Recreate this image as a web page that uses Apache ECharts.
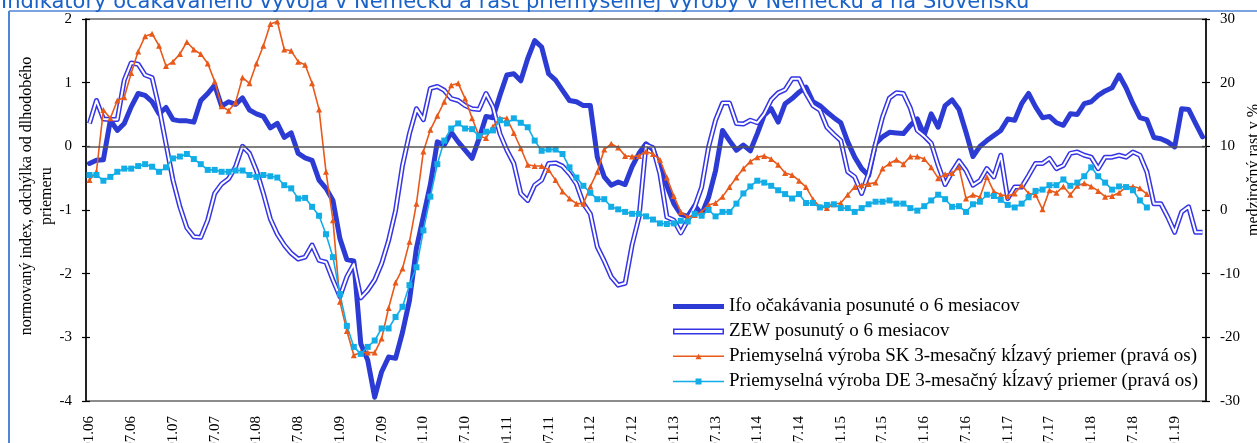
<!DOCTYPE html>
<html>
<head>
<meta charset="utf-8">
<script src="https://cdn.jsdelivr.net/npm/echarts@6/dist/echarts.min.js"></script>
<style>
html,body{margin:0;padding:0;background:#fff;}
#chart{width:1257px;height:443px;}
</style>
</head>
<body>
<div id="chart"></div>
<script>
// Months Jan 2006 .. May 2019
const startYear = 2006, monthCount = 161;
const categories = [];
for (let k = 0; k < monthCount; k++) {
  const m = (k % 12) + 1, y = startYear + Math.floor(k / 12);
  categories.push((m < 10 ? '0' : '') + m + '.' + String(y).slice(2));
}

const ifo = [-0.27,-0.22,-0.21,0.41,0.25,0.36,0.62,0.83,0.80,0.70,0.51,0.61,0.42,0.40,0.40,0.38,0.72,0.83,0.96,0.63,
0.70,0.66,0.76,0.57,0.51,0.47,0.29,0.36,0.14,0.21,-0.11,-0.18,-0.22,-0.53,-0.66,-0.85,-1.45,-1.78,-1.80,-3.10,
-3.36,-3.94,-3.54,-3.31,-3.33,-2.92,-2.42,-1.60,-1.10,-0.60,0.07,0.02,0.22,0.07,-0.06,-0.19,0.12,0.47,0.45,0.80,
1.12,1.14,1.03,1.38,1.66,1.56,1.14,1.04,0.88,0.72,0.70,0.64,0.64,-0.17,-0.48,-0.61,-0.56,-0.60,-0.32,-0.11,
0.04,-0.05,-0.32,-0.62,-0.90,-1.07,-1.10,-0.93,-1.07,-0.80,-0.38,0.25,0.09,-0.06,0.02,-0.07,0.20,0.49,0.59,0.38,
0.67,0.75,0.85,0.93,0.70,0.64,0.54,0.45,0.37,0.07,-0.17,-0.35,-0.46,0.04,0.15,0.22,0.21,0.20,0.33,0.43,
0.18,0.51,0.30,0.64,0.73,0.58,0.22,-0.16,0.00,0.09,0.17,0.25,0.43,0.41,0.67,0.83,0.62,0.45,0.47,0.37,
0.33,0.51,0.50,0.67,0.70,0.80,0.87,0.92,1.12,0.92,0.67,0.45,0.42,0.14,0.12,0.07,-0.01,0.59,0.58,0.36,0.15];

const zew = [0.36,0.72,0.43,0.42,0.42,1.04,1.31,1.29,1.12,1.08,0.61,0.04,-0.53,-0.95,-1.28,-1.42,-1.43,-1.16,-0.74,-0.59,
-0.51,-0.32,0.00,-0.11,-0.38,-0.74,-1.14,-1.38,-1.55,-1.68,-1.77,-1.74,-1.55,-1.79,-1.82,-2.10,-2.36,-2.05,-1.85,-2.38,
-2.26,-2.10,-1.84,-1.48,-1.01,-0.30,0.20,0.59,0.42,0.91,0.94,0.88,0.75,0.72,0.64,0.59,0.58,0.83,0.62,0.20,
-0.06,-0.27,-0.74,-0.85,-0.61,-0.53,-0.27,-0.26,-0.31,-0.43,-0.59,-0.90,-1.06,-1.58,-1.80,-2.05,-2.18,-2.15,-1.55,-1.11,
0.02,-0.02,-0.43,-1.11,-1.16,-1.36,-1.16,-0.95,-0.64,-0.01,0.41,0.68,0.68,0.36,0.35,0.41,0.37,0.51,0.73,0.84,
0.89,1.06,1.06,0.83,0.64,0.57,0.30,0.19,0.09,-0.40,-0.48,-0.74,-0.43,0.04,0.46,0.76,0.84,0.83,0.60,0.25,
0.16,0.05,-0.30,-0.60,-0.40,-0.23,-0.38,-0.61,-0.54,-0.35,-0.48,-0.14,-0.82,-0.64,-0.64,-0.46,-0.27,-0.27,-0.19,-0.35,
-0.30,-0.11,-0.09,-0.14,-0.17,-0.35,-0.17,-0.17,-0.14,-0.17,-0.09,-0.14,-0.40,-0.90,-0.90,-1.11,-1.35,-1.03,-0.95,-1.35,-1.35];

const sk = [4.7,6.0,15.7,14.4,17.2,17.7,21.5,24.9,27.3,27.7,25.8,22.6,23.3,24.5,26.4,25.2,24.5,23.0,20.2,16.3,
15.6,16.9,20.8,19.9,23.0,25.8,29.2,29.6,25.2,25.0,23.3,22.8,19.9,15.8,6.0,-1.6,-14.4,-19.0,-22.8,-22.4,
-22.4,-22.4,-20.2,-15.4,-11.4,-9.2,-5.0,1.0,9.2,12.6,14.8,17.0,19.6,19.9,17.5,14.4,11.6,11.3,13.1,14.4,
14.4,12.1,9.7,7.1,6.9,6.9,6.3,4.7,2.9,1.8,1.0,1.0,3.7,6.0,9.5,10.4,9.8,8.5,8.4,8.5,
9.2,8.8,7.9,5.1,2.2,-0.3,-1.1,-0.8,-0.3,0.8,1.1,2.1,3.6,5.1,6.5,7.6,8.3,8.5,8.0,7.1,
5.8,5.5,4.6,3.6,1.7,0.5,0.3,0.9,1.1,2.4,3.6,3.9,4.1,4.3,6.5,7.3,7.9,7.2,8.4,8.4,
8.0,6.7,5.0,5.6,5.8,6.7,1.8,2.4,2.0,5.2,2.9,2.4,2.2,2.6,3.9,2.6,2.4,0.1,3.1,2.7,
3.7,2.4,3.8,4.2,3.7,3.0,2.1,2.2,2.7,3.6,3.7,3.4,2.5];

const de = [5.5,5.5,4.6,5.2,6.0,6.5,6.5,6.9,7.2,6.8,6.0,6.7,8.1,8.4,8.8,8.0,7.2,6.3,6.3,6.0,
6.0,6.2,6.2,5.5,5.2,5.5,5.3,5.1,3.9,3.4,1.8,1.9,0.5,-0.9,-3.8,-7.4,-13.2,-18.2,-21.5,-22.6,
-21.5,-20.5,-18.6,-18.6,-16.8,-15.2,-11.8,-9.0,-3.2,2.1,7.2,10.9,12.8,13.6,12.8,12.7,11.6,12.3,12.5,14.1,
13.6,14.4,13.7,13.0,10.9,9.3,9.5,9.5,8.8,6.7,5.1,3.8,2.7,1.7,1.7,0.5,0.1,-0.3,-0.6,-0.6,
-1.0,-1.5,-2.1,-2.2,-2.1,-1.7,-1.8,-0.6,-0.9,0.0,-1.0,-0.3,-0.3,1.0,2.6,3.7,4.6,4.3,3.8,3.1,
2.5,1.8,2.5,1.1,1.1,0.4,0.8,0.9,0.3,0.3,-0.3,0.3,0.9,1.3,1.3,1.5,1.0,1.0,0.3,-0.1,
0.6,1.5,2.4,1.7,0.5,0.6,-0.3,0.9,1.3,2.4,2.2,1.6,0.8,0.4,1.0,2.0,3.0,3.2,3.9,3.9,
4.8,3.8,4.3,5.3,6.7,5.3,4.3,3.2,3.7,3.6,3.1,1.5,0.4];

const leftTicks = {min: -4, max: 2, interval: 1};
const rightTicks = {min: -30, max: 30, interval: 10};

const names = {
  ifo: 'Ifo očakávania posunuté o 6 mesiacov',
  zew: 'ZEW posunutý o 6 mesiacov',
  sk: 'Priemyselná výroba SK 3-mesačný kĺzavý priemer (pravá os)',
  de: 'Priemyselná výroba DE 3-mesačný kĺzavý priemer (pravá os)'
};
const title = 'Indikátory očakávaného vývoja v Nemecku a rast priemyselnej výroby v Nemecku a na Slovensku';
const leftName = 'normovaný index, odchýlka od dlhodobého\npriemeru';
const rightName = 'medziročný rast v %';

const C = {ifo: '#2b3bd4', zew: '#3535e6', sk: '#e8591a', de: '#12ade6'};
const serif = 'Liberation Serif';

const chart = echarts.init(document.getElementById('chart'), null, {renderer: 'canvas'});

function yAx(t, pos, main) {
  return {
    type: 'value', position: pos, min: t.min, max: t.max, interval: t.interval,
    splitLine: {show: false},
    axisLine: {show: main, lineStyle: {color: '#000', width: 1.5}},
    axisTick: {show: true, inside: !main, length: 4, lineStyle: {color: '#000', width: 1.2}},
    axisLabel: {show: main, margin: 14, fontFamily: serif, fontSize: 15, color: '#000'}
  };
}

chart.setOption({
  animation: false,
  backgroundColor: '#fff',
  grid: {left: 86, right: 51, top: 19, bottom: 42, show: true, borderColor: '#8c8c8c', borderWidth: 2,
         outerBoundsMode: 'none', containLabel: false},
  xAxis: {
    type: 'category', data: categories, boundaryGap: true,
    axisLine: {show: false, onZero: false}, axisTick: {show: false}, splitLine: {show: false},
    axisLabel: {
      interval: function (i) { return i % 6 === 0; },
      rotate: 90, margin: 15, fontFamily: serif, fontSize: 15, color: '#000'
    }
  },
  yAxis: [yAx(leftTicks, 'left', true), yAx(rightTicks, 'right', true),
          yAx(leftTicks, 'left', false), yAx(rightTicks, 'right', false)],
  legend: {
    orient: 'vertical', left: 673, top: 297, padding: 0,
    itemWidth: 51, itemHeight: 14, itemGap: 6,
    textStyle: {fontFamily: serif, fontSize: 19, color: '#000'},
    data: [
      {name: names.ifo, icon: 'path://M0,0L51,0L51,5L0,5Z'},
      {name: names.zew, icon: 'path://M0,0L51,0L51,6L0,6Z M1.5,1.5L1.5,4.5L49.5,4.5L49.5,1.5Z'},
      {name: names.sk, icon: 'path://M0,3.3L51,3.3L51,4.7L0,4.7Z M22.5,7L25.5,1.5L28.5,7Z'},
      {name: names.de, icon: 'path://M0,3.3L51,3.3L51,4.7L0,4.7Z M22.5,1L28.5,1L28.5,7L22.5,7Z'}
    ]
  },
  graphic: [
    {type: 'line', shape: {x1: 9, y1: 11, x2: 1257, y2: 11}, style: {stroke: '#4f86d4', lineWidth: 1.5}},
    {type: 'line', shape: {x1: 9, y1: 11, x2: 9, y2: 443}, style: {stroke: '#4f86d4', lineWidth: 2}},
    {type: 'text', left: 1, top: -8, style: {text: title, fill: '#1a62c8', font: '21px "DejaVu Sans"'}},
    {type: 'text', x: 37, y: 196, rotation: Math.PI / 2,
     style: {text: leftName, fill: '#000', font: '16px "Liberation Serif"', align: 'center', verticalAlign: 'middle', lineHeight: 20}},
    {type: 'text', x: 1254, y: 170, rotation: Math.PI / 2,
     style: {text: rightName, fill: '#000', font: '16px "Liberation Serif"', align: 'center', verticalAlign: 'middle'}}
  ],
  series: [
    {name: names.ifo, type: 'line', yAxisIndex: 0, data: ifo, symbol: 'none', color: C.ifo,
     lineStyle: {width: 5, color: C.ifo, join: 'round', cap: 'round'},
     markLine: {silent: true, symbol: 'none', label: {show: false},
       lineStyle: {color: '#555', width: 1.5, type: 'solid'}, data: [{yAxis: 0}]}},
    {name: names.zew, type: 'line', yAxisIndex: 0, data: zew, symbol: 'none', color: C.zew,
     lineStyle: {width: 5, color: C.zew, join: 'round'}},
    {name: 'zew-inner', type: 'line', yAxisIndex: 0, data: zew, symbol: 'none', color: '#fff',
     lineStyle: {width: 2, color: '#fff', join: 'round'}},
    {name: names.sk, type: 'line', yAxisIndex: 1, data: sk, symbol: 'triangle', symbolSize: 6,
     showAllSymbol: true, color: C.sk, lineStyle: {width: 1.6, color: C.sk}, itemStyle: {color: C.sk}},
    {name: names.de, type: 'line', yAxisIndex: 1, data: de, symbol: 'rect', symbolSize: 6,
     showAllSymbol: true, color: C.de, lineStyle: {width: 1.6, color: C.de}, itemStyle: {color: C.de}}
  ]
});
</script>
</body>
</html>
